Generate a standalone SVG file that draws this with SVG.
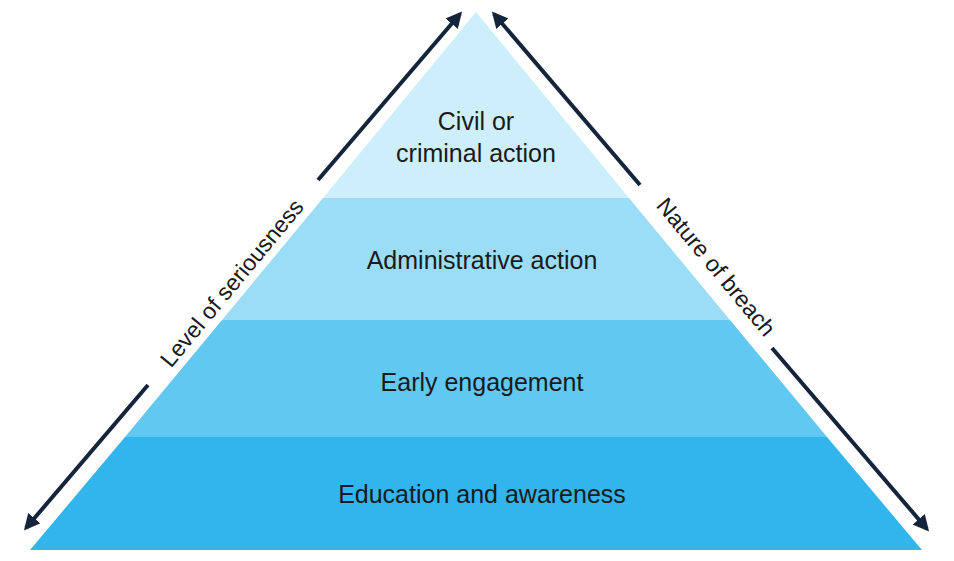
<svg xmlns="http://www.w3.org/2000/svg" width="954" height="561" viewBox="0 0 954 561">
<style>
text{font-family:"Liberation Sans",Arial,sans-serif;font-size:25px;fill:#1a1a1a;text-anchor:middle}
.s{font-size:23px}
.ar{stroke:#14243a;stroke-width:4;fill:none;marker-end:url(#ah)}
</style>
<defs><marker id="ah" viewBox="0 0 10 10" refX="8" refY="5" markerWidth="4" markerHeight="4" orient="auto"><path d="M0,0L10,5L0,10z" fill="#14243a"/></marker></defs>
<rect width="954" height="561" fill="#fff"/>
<g id="band1"><polygon points="476,12 323,198 629,198" fill="#cdeefb"/><text x="476" y="130">Civil or</text><text x="476" y="162">criminal action</text></g>
<g id="band2"><polygon points="323,198 629,198 730,320 222,320" fill="#9bddf6"/><text x="482" y="269">Administrative action</text></g>
<g id="band3"><polygon points="222,320 730,320 827,437 125,437" fill="#60c8f1"/><text x="482" y="391">Early engagement</text></g>
<g id="band4"><polygon points="125,437 827,437 922,550 30,550" fill="#31b5ec"/><text x="482" y="503">Education and awareness</text></g>
<g id="connectors">
<line class="ar" x1="318" y1="180" x2="460" y2="14"/>
<line class="ar" x1="148" y1="385" x2="26" y2="528"/>
<line class="ar" x1="640" y1="185" x2="494" y2="14"/>
<line class="ar" x1="772" y1="348" x2="927" y2="529"/>
</g>
<g id="labels">
<text class="s" transform="translate(238,288) rotate(-50.3)">Level of seriousness</text>
<text class="s" transform="translate(710,272) rotate(50.3)">Nature of breach</text>
</g>
</svg>
